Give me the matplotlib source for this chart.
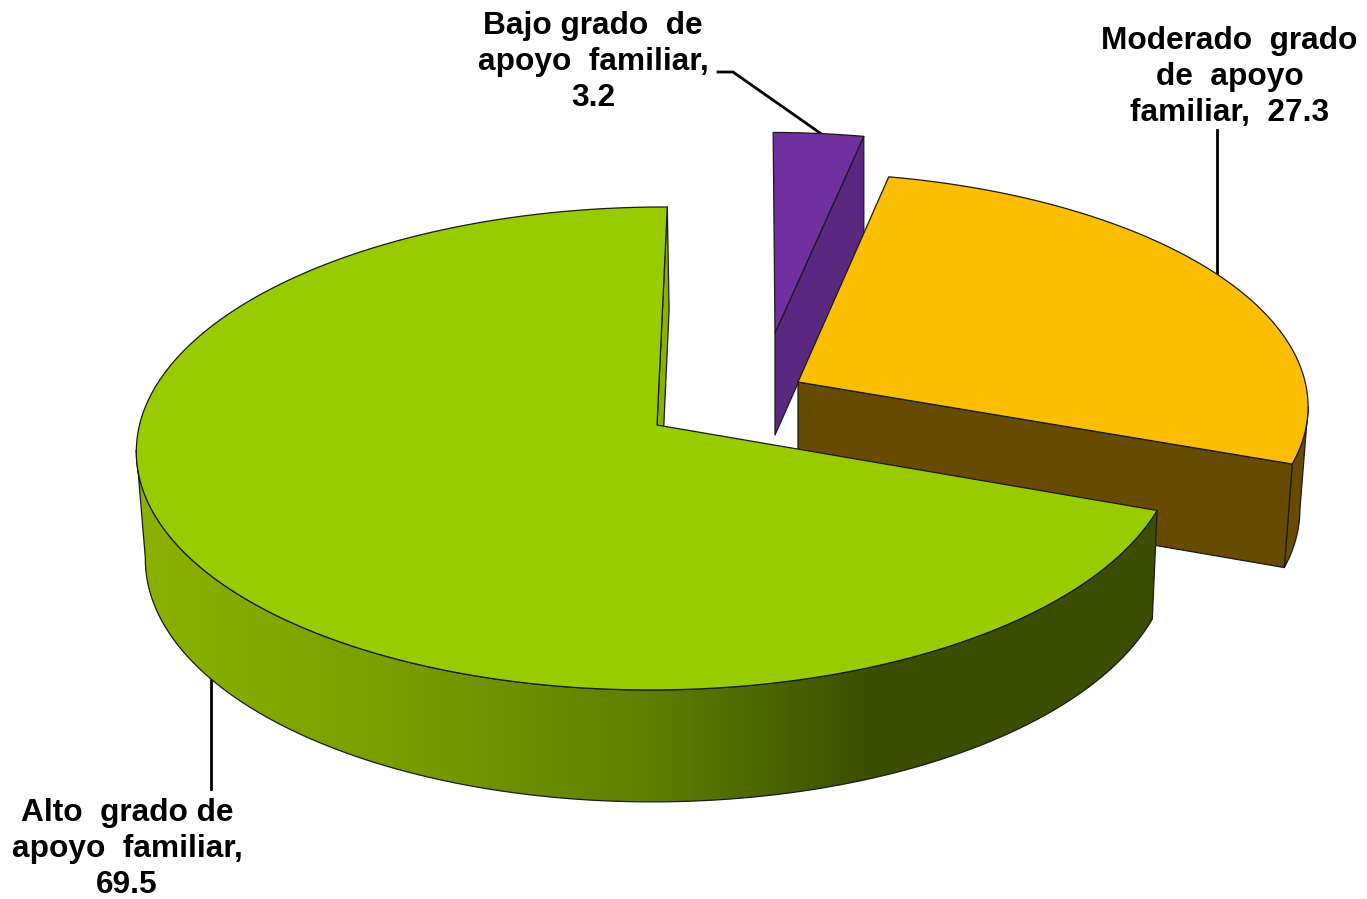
import numpy as np
import matplotlib
matplotlib.use("Agg")
import matplotlib.pyplot as plt
from matplotlib.colors import LinearSegmentedColormap
from matplotlib.patches import Polygon

categories = ["Moderado", "Bajo", "Alto"]
values = [27.3, 3.2, 69.5]
label_texts = ["Moderado  grado\nde  apoyo\nfamiliar,  {}",
               "Bajo grado  de\napoyo  familiar,\n{}",
               "Alto  grado de\napoyo  familiar,\n{}"]
top_colors = ["#FCBE00", "#7030A0", "#99CC00"]
side_colors = ["#664B00", "#5A2880", "#3B4E00"]

START_ANGLE = 89.6   # where the green slice starts, going counter clockwise
B, K, A = 239.2, 0.0972, 517.5   # perspective of the pie plane, in pixels
EDGE = "#1a1a1a"

# tip x, tip y, x scale, y scale, shear, depth, depth scale, vanish x, side scale
layout = {
    "Moderado": (798, 382, 0.98, 0.96, -5, 102, 1.0186, 798, 0.984),
    "Bajo": (775, 333, 0.96, 0.92, -5, 102, 1.0186, 775, 1.0),
    "Alto": (657, 425, 1.0, 1.0, 7, 107, 1.0186, 800, 0.98643),
}


def project(name: str, theta, lower: bool = False):
    """
    Project angles on the pie rim to image pixels.

    :param name: str
        slice name, a key of layout
    :param theta: np.ndarray
        angles in degrees
    :param lower: bool, optional
        True for the lower rim of the pie
    """
    tx, ty, sx, sy, shear, depth, rd, vx, sv = layout[name]
    theta = np.radians(theta)
    cos, sin = np.cos(theta), np.sin(theta)
    x = tx + sx * A * cos / (1 + K * sin) + shear * sin
    y = ty - sy * B * sin / (1 + K * sin)
    if lower:
        x = vx + sv * (x - vx)
        y = ty + depth + rd * (y - ty)
    return x, y


def tip(name: str, lower: bool = False):
    tx, ty, sx, sy, shear, depth, rd, vx, sv = layout[name]
    if lower:
        return vx + sv * (tx - vx), ty + depth
    return tx, ty


def poly(ax, xs, ys, color, zorder):
    patch = Polygon(np.column_stack([xs, ys]), closed=True, facecolor=color,
                    edgecolor=EDGE, linewidth=0.9, zorder=zorder, joinstyle="round")
    ax.add_patch(patch)
    return patch


def rim_outline(name, a0, a1):
    t = np.linspace(a0, a1, 120)
    xt, yt = project(name, t)
    xb, yb = project(name, t[::-1], lower=True)
    return np.r_[xt, xb], np.r_[yt, yb]


fig = plt.figure(figsize=(13.67, 8.99), dpi=100)
ax = fig.add_axes([0, 0, 1, 1])
ax.set_xlim(0, 1367)
ax.set_ylim(899, 0)
ax.axis("off")

# angle ranges, clockwise from the start of the green slice
sweep = np.array(values) * 360 / sum(values)
bajo_a = (START_ANGLE - sweep[1], START_ANGLE)
mod_a = (bajo_a[0] - sweep[0], bajo_a[0])
alto_a = (START_ANGLE, START_ANGLE + sweep[2])

# purple slice, right side face then top
x0, y0 = project("Bajo", bajo_a[0])
x1, y1 = project("Bajo", bajo_a[0], lower=True)
tbx, tby = tip("Bajo", lower=True)
tx, ty = tip("Bajo")
poly(ax, [tx, x0, x1, tbx], [ty, y0, y1, tby], side_colors[1], 2)
t = np.linspace(*bajo_a, 30)
xs, ys = project("Bajo", t)
poly(ax, np.r_[tx, xs], np.r_[ty, ys], top_colors[1], 3)

# yellow slice
xs, ys = rim_outline("Moderado", mod_a[0], mod_a[0] + 14)
poly(ax, xs, ys, side_colors[0], 4)
x0, y0 = project("Moderado", mod_a[0])
x1, y1 = project("Moderado", mod_a[0], lower=True)
tx, ty = tip("Moderado")
tbx, tby = tip("Moderado", lower=True)
poly(ax, [tx, x0, x1, tbx], [ty, y0, y1, tby], side_colors[0], 5)
t = np.linspace(*mod_a, 120)
xs, ys = project("Moderado", t)
poly(ax, np.r_[tx, xs], np.r_[ty, ys], top_colors[0], 6)

# green slice: start face, shaded rim, top
x0, y0 = project("Alto", START_ANGLE)
x1, y1 = project("Alto", START_ANGLE, lower=True)
tx, ty = tip("Alto")
tbx, tby = tip("Alto", lower=True)
poly(ax, [tx, x0, x1, tbx], [ty, y0, y1, tby], "#86B300", 7)

xs, ys = rim_outline("Alto", 186, alto_a[1])
rim = poly(ax, xs, ys, "none", 9)
shade = LinearSegmentedColormap.from_list(
    "rim", [(0, "#8BB200"), (0.25, "#7A9E00"), (0.5, "#5F7F00"),
            (0.72, "#3B4E00"), (1, "#3B4E00")])
im = ax.imshow(np.linspace(0, 1, 512)[None, :], cmap=shade, vmin=0, vmax=1,
               extent=(137, 1160, 899, 0), aspect="auto", zorder=8)
im.set_clip_path(rim)
ax.set_xlim(0, 1367)
ax.set_ylim(899, 0)

t = np.linspace(*alto_a, 300)
xs, ys = project("Alto", t)
poly(ax, np.r_[tx, xs], np.r_[ty, ys], top_colors[2], 10)

# leader lines
ax.plot([718, 733, 820], [72, 72, 133], color="black", lw=2, zorder=1)
ax.plot([1217, 1217], [130, 273], color="black", lw=2, zorder=1)
ax.plot([211, 211], [680, 789], color="black", lw=2, zorder=1)

label_pos = {"Moderado": (1229.5, 77), "Bajo": (593, 62), "Alto": (127, 849)}
for name, value, text in zip(categories, values, label_texts):
    ax.text(*label_pos[name], text.format(value), ha="center", va="center",
            family="Liberation Sans", weight="bold", fontsize=22.8,
            linespacing=1.24, color="black", zorder=12)

plt.savefig("out.png", dpi=100)
